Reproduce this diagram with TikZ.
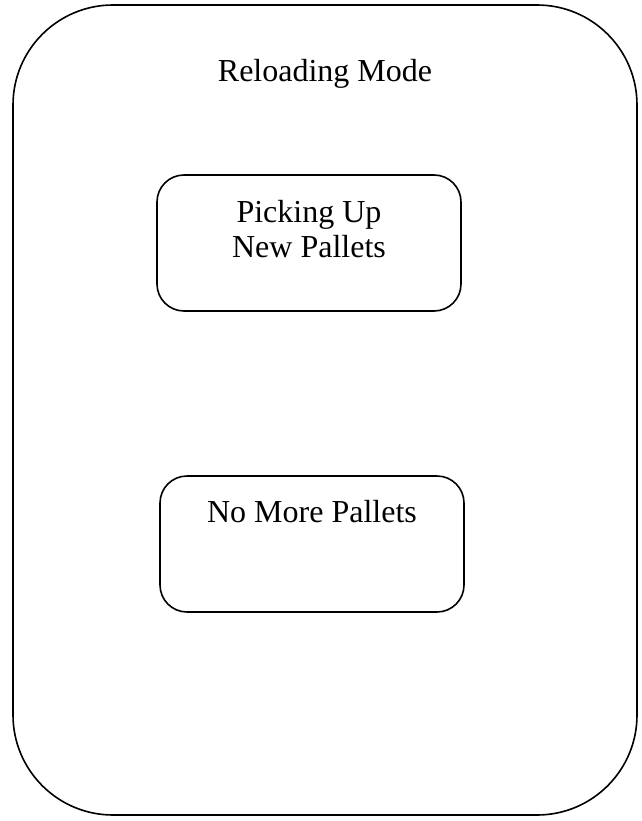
\documentclass[tikz,border=0pt]{standalone}
\usepackage{fontspec}
\setmainfont{Liberation Serif}
\begin{document}
\begin{tikzpicture}[x=1pt,y=-1pt,
  frame/.style={draw=black,line width=1.6pt,rounded corners=#1},
  lbl/.style={anchor=base,inner sep=0pt,font=\fontsize{32}{36}\selectfont,align=center}]
\useasboundingbox (0,0) rectangle (641,821);
\draw[frame=100pt] (13,5) rectangle (637,815);
\node[lbl] (title) at (325,82) {Reloading Mode};
\draw[frame=27pt] (157,175) rectangle (461,311);
\coordinate (b1) at (309,175);
\node[lbl,anchor=base] (pick) at (309,222) {Picking Up};
\node[lbl,anchor=base] (newp) at (309,257) {New Pallets};
\draw[frame=27pt] (160,476) rectangle (464,612);
\node[lbl,anchor=base] (nomore) at (312,522) {No More Pallets};
\end{tikzpicture}
\end{document}
